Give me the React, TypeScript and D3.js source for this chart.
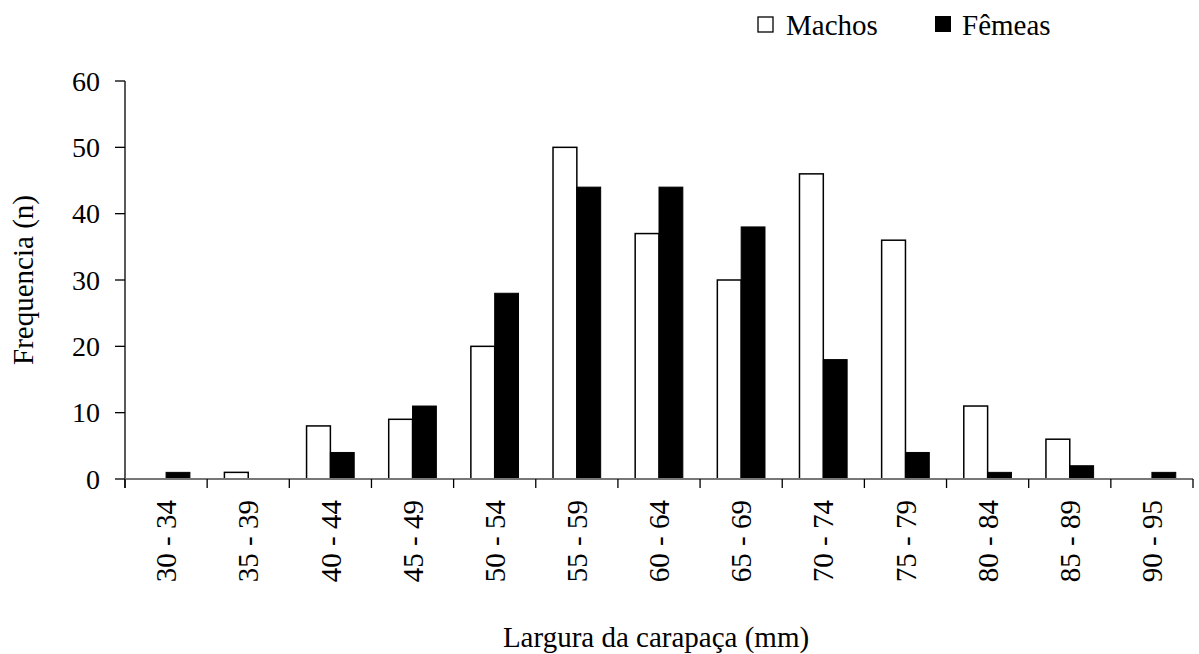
import React from "react";
import * as d3 from "d3";

const categories = ["30 - 34", "35 - 39", "40 - 44", "45 - 49", "50 - 54", "55 - 59", "60 - 64", "65 - 69", "70 - 74", "75 - 79", "80 - 84", "85 - 89", "90 - 95"];
const machos = [0, 1, 8, 9, 20, 50, 37, 30, 46, 36, 11, 6, 0];
const femeas = [1, 0, 4, 11, 28, 44, 44, 38, 18, 4, 1, 2, 1];
const yTicks = [0, 10, 20, 30, 40, 50, 60];
const seriesNames = ["Machos", "Fêmeas"];

const W = 1199;
const H = 654;
const FONT = "'Liberation Serif', 'Times New Roman', Times, serif";

export default function App() {
  const left = 125;
  const right = 1193;
  const top = 81;
  const bottom = 479;

  const x = d3.scaleBand<string>().domain(categories).range([left, right]).padding(0);
  const y = d3.scaleLinear().domain([0, 60]).range([bottom, top]);
  const bw = x.bandwidth() * 0.29;

  const boundaries = categories.map((c) => x(c) as number).concat([right]);

  return (
    <svg width={W} height={H} style={{ position: "absolute", left: 0, top: 0, background: "#fff" }} fontFamily={FONT}>
      {/* bars */}
      {categories.map((c, i) => {
        const cx = (x(c) as number) + x.bandwidth() / 2;
        return (
          <g key={c}>
            {machos[i] > 0 && (
              <rect x={cx - bw} y={y(machos[i])} width={bw} height={bottom - y(machos[i])} fill="#fff" stroke="#000" strokeWidth={1.5} />
            )}
            {femeas[i] > 0 && (
              <rect x={cx} y={y(femeas[i])} width={bw} height={bottom - y(femeas[i])} fill="#000" stroke="#000" strokeWidth={1} />
            )}
          </g>
        );
      })}

      {/* y axis */}
      <line x1={left} x2={left} y1={top} y2={bottom + 9} stroke="#000" strokeWidth={1.3} />
      {yTicks.map((t) => (
        <g key={t}>
          <line x1={left - 10} x2={left} y1={y(t)} y2={y(t)} stroke="#000" strokeWidth={1.3} />
          <text x={100} y={y(t)} dy="0.35em" textAnchor="end" fontSize={28} fill="#000">
            {t}
          </text>
        </g>
      ))}

      {/* x axis */}
      <line x1={left} x2={right} y1={bottom} y2={bottom} stroke="#777" strokeWidth={2} />
      {boundaries.map((b, i) => (
        <line key={i} x1={b} x2={b} y1={bottom} y2={bottom + 9} stroke="#000" strokeWidth={1.3} />
      ))}
      {categories.map((c) => {
        const cx = (x(c) as number) + x.bandwidth() / 2;
        return (
          <text key={c} transform={`translate(${cx},500) rotate(-90)`} dy="0.35em" textAnchor="end" fontSize={29} fill="#000">
            {c}
          </text>
        );
      })}

      {/* axis titles */}
      <text x={656} y={647} textAnchor="middle" fontSize={29} fill="#000">
        Largura da carapaça (mm)
      </text>
      <text transform={`translate(33,${(top + bottom) / 2}) rotate(-90)`} textAnchor="middle" fontSize={29} fill="#000">
        Frequencia (n)
      </text>

      {/* legend */}
      <rect x={758} y={17} width={15} height={15} fill="#fff" stroke="#000" strokeWidth={1.3} />
      <text x={786} y={35} fontSize={29} fill="#000">
        {seriesNames[0]}
      </text>
      <rect x={935} y={16} width={16} height={16} fill="#000" />
      <text x={962} y={35} fontSize={29} fill="#000">
        {seriesNames[1]}
      </text>
    </svg>
  );
}
